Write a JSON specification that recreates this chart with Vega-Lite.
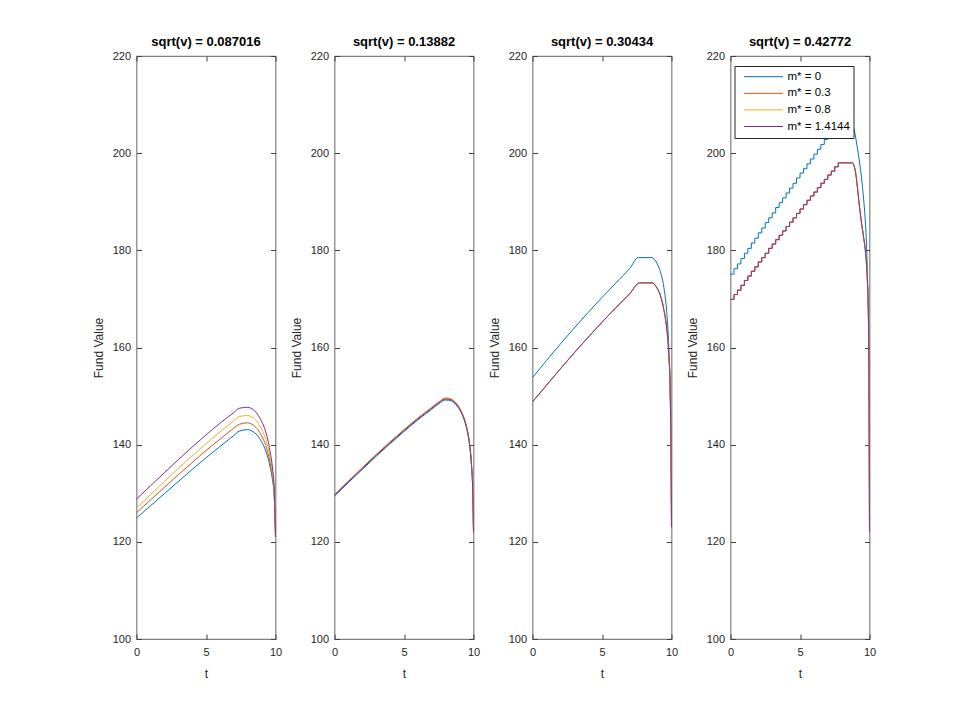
{
  "$schema": "https://vega.github.io/schema/vega-lite/v6.json",
  "background": "white",
  "padding": {"left": 91.5, "top": 35, "right": 0, "bottom": 0},
  "config": {
    "font": "Liberation Sans",
    "view": {"stroke": "#808080", "strokeWidth": 1.2},
    "axis": {
      "domain": false, "grid": false, "tickSize": -5, "tickColor": "#404040",
      "labelColor": "#262626", "labelFontSize": 11, "labelFlush": false, "labelOverlap": false,
      "titleFontSize": 12, "titleFontWeight": "normal", "titleColor": "#262626"
    },
    "axisX": {"labelPadding": 12, "titlePadding": 11},
    "axisY": {"labelPadding": 11, "titlePadding": 7},
    "title": {"fontSize": 13, "fontWeight": "bold", "color": "#000000", "offset": 1}
  },
  "datasets": {
    "p1": [
      {"m":"m* = 0","t":0,"v":124.9},{"m":"m* = 0","t":1,"v":127.4},{"m":"m* = 0","t":2,"v":129.9},{"m":"m* = 0","t":3,"v":132.4},{"m":"m* = 0","t":4,"v":134.9},{"m":"m* = 0","t":5,"v":137.3},{"m":"m* = 0","t":6,"v":139.6},{"m":"m* = 0","t":7,"v":141.9},{"m":"m* = 0","t":7.4,"v":142.8},{"m":"m* = 0","t":8,"v":143.1},{"m":"m* = 0","t":8.3,"v":142.8},{"m":"m* = 0","t":8.7,"v":141.9},{"m":"m* = 0","t":9,"v":140.6},{"m":"m* = 0","t":9.3,"v":138.7},{"m":"m* = 0","t":9.6,"v":135.6},{"m":"m* = 0","t":9.8,"v":132.4},{"m":"m* = 0","t":9.9,"v":129.8},{"m":"m* = 0","t":10,"v":121},
      {"m":"m* = 0.3","t":0,"v":126.0},{"m":"m* = 0.3","t":1,"v":128.6},{"m":"m* = 0.3","t":2,"v":131.2},{"m":"m* = 0.3","t":3,"v":133.8},{"m":"m* = 0.3","t":4,"v":136.3},{"m":"m* = 0.3","t":5,"v":138.8},{"m":"m* = 0.3","t":6,"v":141.1},{"m":"m* = 0.3","t":7,"v":143.4},{"m":"m* = 0.3","t":7.4,"v":144.2},{"m":"m* = 0.3","t":8,"v":144.5},{"m":"m* = 0.3","t":8.3,"v":144.2},{"m":"m* = 0.3","t":8.7,"v":143.2},{"m":"m* = 0.3","t":9,"v":141.8},{"m":"m* = 0.3","t":9.3,"v":139.8},{"m":"m* = 0.3","t":9.6,"v":136.5},{"m":"m* = 0.3","t":9.8,"v":133.1},{"m":"m* = 0.3","t":9.9,"v":130.3},{"m":"m* = 0.3","t":10,"v":121},
      {"m":"m* = 0.8","t":0,"v":127.0},{"m":"m* = 0.8","t":1,"v":129.7},{"m":"m* = 0.8","t":2,"v":132.4},{"m":"m* = 0.8","t":3,"v":135.1},{"m":"m* = 0.8","t":4,"v":137.7},{"m":"m* = 0.8","t":5,"v":140.2},{"m":"m* = 0.8","t":6,"v":142.6},{"m":"m* = 0.8","t":7,"v":144.9},{"m":"m* = 0.8","t":7.4,"v":145.8},{"m":"m* = 0.8","t":8,"v":146.0},{"m":"m* = 0.8","t":8.3,"v":145.7},{"m":"m* = 0.8","t":8.7,"v":144.6},{"m":"m* = 0.8","t":9,"v":143.2},{"m":"m* = 0.8","t":9.3,"v":141.1},{"m":"m* = 0.8","t":9.6,"v":137.6},{"m":"m* = 0.8","t":9.8,"v":133.9},{"m":"m* = 0.8","t":9.9,"v":130.9},{"m":"m* = 0.8","t":10,"v":121},
      {"m":"m* = 1.4144","t":0,"v":128.8},{"m":"m* = 1.4144","t":1,"v":131.5},{"m":"m* = 1.4144","t":2,"v":134.2},{"m":"m* = 1.4144","t":3,"v":136.9},{"m":"m* = 1.4144","t":4,"v":139.5},{"m":"m* = 1.4144","t":5,"v":142.0},{"m":"m* = 1.4144","t":6,"v":144.4},{"m":"m* = 1.4144","t":7,"v":146.6},{"m":"m* = 1.4144","t":7.4,"v":147.5},{"m":"m* = 1.4144","t":8,"v":147.7},{"m":"m* = 1.4144","t":8.3,"v":147.4},{"m":"m* = 1.4144","t":8.7,"v":146.3},{"m":"m* = 1.4144","t":9,"v":144.8},{"m":"m* = 1.4144","t":9.3,"v":142.6},{"m":"m* = 1.4144","t":9.6,"v":138.8},{"m":"m* = 1.4144","t":9.8,"v":134.8},{"m":"m* = 1.4144","t":9.9,"v":131.5},{"m":"m* = 1.4144","t":10,"v":121}
    ],
    "p2": [
      {"m":"m* = 0","t":0,"v":129.4},{"m":"m* = 0","t":1,"v":132.2},{"m":"m* = 0","t":2,"v":134.9},{"m":"m* = 0","t":3,"v":137.6},{"m":"m* = 0","t":4,"v":140.2},{"m":"m* = 0","t":5,"v":142.7},{"m":"m* = 0","t":6,"v":145.1},{"m":"m* = 0","t":7,"v":147.3},{"m":"m* = 0","t":7.5,"v":148.4},{"m":"m* = 0","t":8,"v":149.2},{"m":"m* = 0","t":8.4,"v":149.0},{"m":"m* = 0","t":8.8,"v":148.0},{"m":"m* = 0","t":9.1,"v":146.7},{"m":"m* = 0","t":9.4,"v":144.5},{"m":"m* = 0","t":9.6,"v":142.1},{"m":"m* = 0","t":9.75,"v":139.2},{"m":"m* = 0","t":9.85,"v":135.9},{"m":"m* = 0","t":9.95,"v":129.9},{"m":"m* = 0","t":10,"v":122},
      {"m":"m* = 0.3","t":0,"v":129.7},{"m":"m* = 0.3","t":1,"v":132.5},{"m":"m* = 0.3","t":2,"v":135.3},{"m":"m* = 0.3","t":3,"v":138.0},{"m":"m* = 0.3","t":4,"v":140.6},{"m":"m* = 0.3","t":5,"v":143.1},{"m":"m* = 0.3","t":6,"v":145.5},{"m":"m* = 0.3","t":7,"v":147.7},{"m":"m* = 0.3","t":7.5,"v":148.8},{"m":"m* = 0.3","t":8,"v":149.6},{"m":"m* = 0.3","t":8.4,"v":149.4},{"m":"m* = 0.3","t":8.8,"v":148.4},{"m":"m* = 0.3","t":9.1,"v":147.0},{"m":"m* = 0.3","t":9.4,"v":144.8},{"m":"m* = 0.3","t":9.6,"v":142.4},{"m":"m* = 0.3","t":9.75,"v":139.5},{"m":"m* = 0.3","t":9.85,"v":136.2},{"m":"m* = 0.3","t":9.95,"v":130.2},{"m":"m* = 0.3","t":10,"v":122},
      {"m":"m* = 0.8","t":0,"v":129.6},{"m":"m* = 0.8","t":1,"v":132.4},{"m":"m* = 0.8","t":2,"v":135.2},{"m":"m* = 0.8","t":3,"v":137.9},{"m":"m* = 0.8","t":4,"v":140.5},{"m":"m* = 0.8","t":5,"v":143.0},{"m":"m* = 0.8","t":6,"v":145.4},{"m":"m* = 0.8","t":7,"v":147.6},{"m":"m* = 0.8","t":7.5,"v":148.7},{"m":"m* = 0.8","t":8,"v":149.5},{"m":"m* = 0.8","t":8.4,"v":149.3},{"m":"m* = 0.8","t":8.8,"v":148.3},{"m":"m* = 0.8","t":9.1,"v":146.9},{"m":"m* = 0.8","t":9.4,"v":144.7},{"m":"m* = 0.8","t":9.6,"v":142.3},{"m":"m* = 0.8","t":9.75,"v":139.4},{"m":"m* = 0.8","t":9.85,"v":136.1},{"m":"m* = 0.8","t":9.95,"v":130.1},{"m":"m* = 0.8","t":10,"v":122},
      {"m":"m* = 1.4144","t":0,"v":129.6},{"m":"m* = 1.4144","t":1,"v":132.4},{"m":"m* = 1.4144","t":2,"v":135.1},{"m":"m* = 1.4144","t":3,"v":137.8},{"m":"m* = 1.4144","t":4,"v":140.4},{"m":"m* = 1.4144","t":5,"v":142.9},{"m":"m* = 1.4144","t":6,"v":145.3},{"m":"m* = 1.4144","t":7,"v":147.5},{"m":"m* = 1.4144","t":7.5,"v":148.6},{"m":"m* = 1.4144","t":8,"v":149.4},{"m":"m* = 1.4144","t":8.4,"v":149.2},{"m":"m* = 1.4144","t":8.8,"v":148.2},{"m":"m* = 1.4144","t":9.1,"v":146.8},{"m":"m* = 1.4144","t":9.4,"v":144.6},{"m":"m* = 1.4144","t":9.6,"v":142.2},{"m":"m* = 1.4144","t":9.75,"v":139.3},{"m":"m* = 1.4144","t":9.85,"v":136.0},{"m":"m* = 1.4144","t":9.95,"v":130.0},{"m":"m* = 1.4144","t":10,"v":122}
    ],
    "p3": [
      {"m":"m* = 0","t":0,"v":153.8},{"m":"m* = 0","t":1,"v":157.3},{"m":"m* = 0","t":2,"v":160.7},{"m":"m* = 0","t":3,"v":164.0},{"m":"m* = 0","t":4,"v":167.2},{"m":"m* = 0","t":5,"v":170.3},{"m":"m* = 0","t":6,"v":173.3},{"m":"m* = 0","t":7,"v":176.3},{"m":"m* = 0","t":7.6,"v":178.5},{"m":"m* = 0","t":8.6,"v":178.5},{"m":"m* = 0","t":8.9,"v":177.6},{"m":"m* = 0","t":9.2,"v":175.6},{"m":"m* = 0","t":9.45,"v":172.4},{"m":"m* = 0","t":9.65,"v":167.5},{"m":"m* = 0","t":9.8,"v":160.5},{"m":"m* = 0","t":9.9,"v":152},{"m":"m* = 0","t":9.96,"v":140},{"m":"m* = 0","t":10,"v":123},
      {"m":"m* = 0.3","t":0,"v":148.8},{"m":"m* = 0.3","t":1,"v":152.2},{"m":"m* = 0.3","t":2,"v":155.6},{"m":"m* = 0.3","t":3,"v":158.9},{"m":"m* = 0.3","t":4,"v":162.1},{"m":"m* = 0.3","t":5,"v":165.2},{"m":"m* = 0.3","t":6,"v":168.2},{"m":"m* = 0.3","t":7,"v":171.1},{"m":"m* = 0.3","t":7.7,"v":173.3},{"m":"m* = 0.3","t":8.6,"v":173.3},{"m":"m* = 0.3","t":8.9,"v":172.5},{"m":"m* = 0.3","t":9.2,"v":170.7},{"m":"m* = 0.3","t":9.45,"v":167.8},{"m":"m* = 0.3","t":9.65,"v":164.0},{"m":"m* = 0.3","t":9.8,"v":158.8},{"m":"m* = 0.3","t":9.9,"v":151.5},{"m":"m* = 0.3","t":9.96,"v":140},{"m":"m* = 0.3","t":10,"v":123},
      {"m":"m* = 0.8","t":0,"v":148.8},{"m":"m* = 0.8","t":1,"v":152.2},{"m":"m* = 0.8","t":2,"v":155.6},{"m":"m* = 0.8","t":3,"v":158.9},{"m":"m* = 0.8","t":4,"v":162.1},{"m":"m* = 0.8","t":5,"v":165.2},{"m":"m* = 0.8","t":6,"v":168.2},{"m":"m* = 0.8","t":7,"v":171.1},{"m":"m* = 0.8","t":7.7,"v":173.3},{"m":"m* = 0.8","t":8.6,"v":173.3},{"m":"m* = 0.8","t":8.9,"v":172.5},{"m":"m* = 0.8","t":9.2,"v":170.7},{"m":"m* = 0.8","t":9.45,"v":167.8},{"m":"m* = 0.8","t":9.65,"v":164.0},{"m":"m* = 0.8","t":9.8,"v":158.8},{"m":"m* = 0.8","t":9.9,"v":151.5},{"m":"m* = 0.8","t":9.96,"v":140},{"m":"m* = 0.8","t":10,"v":123},
      {"m":"m* = 1.4144","t":0,"v":148.8},{"m":"m* = 1.4144","t":1,"v":152.2},{"m":"m* = 1.4144","t":2,"v":155.6},{"m":"m* = 1.4144","t":3,"v":158.9},{"m":"m* = 1.4144","t":4,"v":162.1},{"m":"m* = 1.4144","t":5,"v":165.2},{"m":"m* = 1.4144","t":6,"v":168.2},{"m":"m* = 1.4144","t":7,"v":171.1},{"m":"m* = 1.4144","t":7.7,"v":173.3},{"m":"m* = 1.4144","t":8.6,"v":173.3},{"m":"m* = 1.4144","t":8.9,"v":172.5},{"m":"m* = 1.4144","t":9.2,"v":170.7},{"m":"m* = 1.4144","t":9.45,"v":167.8},{"m":"m* = 1.4144","t":9.65,"v":164.0},{"m":"m* = 1.4144","t":9.8,"v":158.8},{"m":"m* = 1.4144","t":9.9,"v":151.5},{"m":"m* = 1.4144","t":9.96,"v":140},{"m":"m* = 1.4144","t":10,"v":123}
    ],
    "p4": [
      {"m":"m* = 0","t":0,"v":175.1},{"m":"m* = 0","t":0.25,"v":176.2},{"m":"m* = 0","t":0.5,"v":177.2},{"m":"m* = 0","t":0.75,"v":178.3},{"m":"m* = 0","t":1,"v":179.4},{"m":"m* = 0","t":1.25,"v":180.4},{"m":"m* = 0","t":1.5,"v":181.5},{"m":"m* = 0","t":1.75,"v":182.5},{"m":"m* = 0","t":2,"v":183.6},{"m":"m* = 0","t":2.25,"v":184.6},{"m":"m* = 0","t":2.5,"v":185.7},{"m":"m* = 0","t":2.75,"v":186.7},{"m":"m* = 0","t":3,"v":187.7},{"m":"m* = 0","t":3.25,"v":188.8},{"m":"m* = 0","t":3.5,"v":189.8},{"m":"m* = 0","t":3.75,"v":190.8},{"m":"m* = 0","t":4,"v":191.8},{"m":"m* = 0","t":4.25,"v":192.8},{"m":"m* = 0","t":4.5,"v":193.8},{"m":"m* = 0","t":4.75,"v":194.9},{"m":"m* = 0","t":5,"v":195.9},{"m":"m* = 0","t":5.25,"v":196.8},{"m":"m* = 0","t":5.5,"v":197.8},{"m":"m* = 0","t":5.75,"v":198.8},{"m":"m* = 0","t":6,"v":199.8},{"m":"m* = 0","t":6.25,"v":200.8},{"m":"m* = 0","t":6.5,"v":201.8},{"m":"m* = 0","t":6.75,"v":202.8},{"m":"m* = 0","t":7,"v":203.7},{"m":"m* = 0","t":7.25,"v":204.7},{"m":"m* = 0","t":7.5,"v":205.7},{"m":"m* = 0","t":8.8,"v":205.7},{"m":"m* = 0","t":8.9,"v":204.8},{"m":"m* = 0","t":9,"v":203.3},{"m":"m* = 0","t":9.1,"v":201.6},{"m":"m* = 0","t":9.2,"v":199.8},{"m":"m* = 0","t":9.3,"v":197.8},{"m":"m* = 0","t":9.4,"v":195.5},{"m":"m* = 0","t":9.5,"v":192.9},{"m":"m* = 0","t":9.6,"v":189.8},{"m":"m* = 0","t":9.7,"v":186.0},{"m":"m* = 0","t":9.75,"v":183.5},{"m":"m* = 0","t":9.8,"v":180.0},{"m":"m* = 0","t":9.85,"v":175.0},{"m":"m* = 0","t":9.9,"v":169.8},{"m":"m* = 0","t":9.94,"v":162},{"m":"m* = 0","t":9.97,"v":150},{"m":"m* = 0","t":10,"v":122},
      {"m":"m* = 0.3","t":0,"v":169.9},{"m":"m* = 0.3","t":0.25,"v":170.9},{"m":"m* = 0.3","t":0.5,"v":171.8},{"m":"m* = 0.3","t":0.75,"v":172.8},{"m":"m* = 0.3","t":1,"v":173.8},{"m":"m* = 0.3","t":1.25,"v":174.7},{"m":"m* = 0.3","t":1.5,"v":175.7},{"m":"m* = 0.3","t":1.75,"v":176.6},{"m":"m* = 0.3","t":2,"v":177.6},{"m":"m* = 0.3","t":2.25,"v":178.5},{"m":"m* = 0.3","t":2.5,"v":179.4},{"m":"m* = 0.3","t":2.75,"v":180.4},{"m":"m* = 0.3","t":3,"v":181.3},{"m":"m* = 0.3","t":3.25,"v":182.2},{"m":"m* = 0.3","t":3.5,"v":183.1},{"m":"m* = 0.3","t":3.75,"v":184.0},{"m":"m* = 0.3","t":4,"v":184.9},{"m":"m* = 0.3","t":4.25,"v":185.8},{"m":"m* = 0.3","t":4.5,"v":186.7},{"m":"m* = 0.3","t":4.75,"v":187.6},{"m":"m* = 0.3","t":5,"v":188.5},{"m":"m* = 0.3","t":5.25,"v":189.4},{"m":"m* = 0.3","t":5.5,"v":190.3},{"m":"m* = 0.3","t":5.75,"v":191.2},{"m":"m* = 0.3","t":6,"v":192.0},{"m":"m* = 0.3","t":6.25,"v":192.9},{"m":"m* = 0.3","t":6.5,"v":193.8},{"m":"m* = 0.3","t":6.75,"v":194.6},{"m":"m* = 0.3","t":7,"v":195.5},{"m":"m* = 0.3","t":7.25,"v":196.3},{"m":"m* = 0.3","t":7.5,"v":197.2},{"m":"m* = 0.3","t":7.75,"v":198.0},{"m":"m* = 0.3","t":8.8,"v":198.0},{"m":"m* = 0.3","t":8.9,"v":197.3},{"m":"m* = 0.3","t":9,"v":196.0},{"m":"m* = 0.3","t":9.1,"v":193.8},{"m":"m* = 0.3","t":9.2,"v":191.0},{"m":"m* = 0.3","t":9.3,"v":188.5},{"m":"m* = 0.3","t":9.4,"v":186.2},{"m":"m* = 0.3","t":9.5,"v":184.2},{"m":"m* = 0.3","t":9.6,"v":182.2},{"m":"m* = 0.3","t":9.7,"v":180.0},{"m":"m* = 0.3","t":9.75,"v":178.5},{"m":"m* = 0.3","t":9.8,"v":176.5},{"m":"m* = 0.3","t":9.85,"v":173.5},{"m":"m* = 0.3","t":9.9,"v":169.6},{"m":"m* = 0.3","t":9.94,"v":162},{"m":"m* = 0.3","t":9.97,"v":150},{"m":"m* = 0.3","t":10,"v":122},
      {"m":"m* = 0.8","t":0,"v":169.9},{"m":"m* = 0.8","t":0.25,"v":170.9},{"m":"m* = 0.8","t":0.5,"v":171.8},{"m":"m* = 0.8","t":0.75,"v":172.8},{"m":"m* = 0.8","t":1,"v":173.8},{"m":"m* = 0.8","t":1.25,"v":174.7},{"m":"m* = 0.8","t":1.5,"v":175.7},{"m":"m* = 0.8","t":1.75,"v":176.6},{"m":"m* = 0.8","t":2,"v":177.6},{"m":"m* = 0.8","t":2.25,"v":178.5},{"m":"m* = 0.8","t":2.5,"v":179.4},{"m":"m* = 0.8","t":2.75,"v":180.4},{"m":"m* = 0.8","t":3,"v":181.3},{"m":"m* = 0.8","t":3.25,"v":182.2},{"m":"m* = 0.8","t":3.5,"v":183.1},{"m":"m* = 0.8","t":3.75,"v":184.0},{"m":"m* = 0.8","t":4,"v":184.9},{"m":"m* = 0.8","t":4.25,"v":185.8},{"m":"m* = 0.8","t":4.5,"v":186.7},{"m":"m* = 0.8","t":4.75,"v":187.6},{"m":"m* = 0.8","t":5,"v":188.5},{"m":"m* = 0.8","t":5.25,"v":189.4},{"m":"m* = 0.8","t":5.5,"v":190.3},{"m":"m* = 0.8","t":5.75,"v":191.2},{"m":"m* = 0.8","t":6,"v":192.0},{"m":"m* = 0.8","t":6.25,"v":192.9},{"m":"m* = 0.8","t":6.5,"v":193.8},{"m":"m* = 0.8","t":6.75,"v":194.6},{"m":"m* = 0.8","t":7,"v":195.5},{"m":"m* = 0.8","t":7.25,"v":196.3},{"m":"m* = 0.8","t":7.5,"v":197.2},{"m":"m* = 0.8","t":7.75,"v":198.0},{"m":"m* = 0.8","t":8.8,"v":198.0},{"m":"m* = 0.8","t":8.9,"v":197.3},{"m":"m* = 0.8","t":9,"v":196.0},{"m":"m* = 0.8","t":9.1,"v":193.8},{"m":"m* = 0.8","t":9.2,"v":191.0},{"m":"m* = 0.8","t":9.3,"v":188.5},{"m":"m* = 0.8","t":9.4,"v":186.2},{"m":"m* = 0.8","t":9.5,"v":184.2},{"m":"m* = 0.8","t":9.6,"v":182.2},{"m":"m* = 0.8","t":9.7,"v":180.0},{"m":"m* = 0.8","t":9.75,"v":178.5},{"m":"m* = 0.8","t":9.8,"v":176.5},{"m":"m* = 0.8","t":9.85,"v":173.5},{"m":"m* = 0.8","t":9.9,"v":169.6},{"m":"m* = 0.8","t":9.94,"v":162},{"m":"m* = 0.8","t":9.97,"v":150},{"m":"m* = 0.8","t":10,"v":122},
      {"m":"m* = 1.4144","t":0,"v":169.9},{"m":"m* = 1.4144","t":0.25,"v":170.9},{"m":"m* = 1.4144","t":0.5,"v":171.8},{"m":"m* = 1.4144","t":0.75,"v":172.8},{"m":"m* = 1.4144","t":1,"v":173.8},{"m":"m* = 1.4144","t":1.25,"v":174.7},{"m":"m* = 1.4144","t":1.5,"v":175.7},{"m":"m* = 1.4144","t":1.75,"v":176.6},{"m":"m* = 1.4144","t":2,"v":177.6},{"m":"m* = 1.4144","t":2.25,"v":178.5},{"m":"m* = 1.4144","t":2.5,"v":179.4},{"m":"m* = 1.4144","t":2.75,"v":180.4},{"m":"m* = 1.4144","t":3,"v":181.3},{"m":"m* = 1.4144","t":3.25,"v":182.2},{"m":"m* = 1.4144","t":3.5,"v":183.1},{"m":"m* = 1.4144","t":3.75,"v":184.0},{"m":"m* = 1.4144","t":4,"v":184.9},{"m":"m* = 1.4144","t":4.25,"v":185.8},{"m":"m* = 1.4144","t":4.5,"v":186.7},{"m":"m* = 1.4144","t":4.75,"v":187.6},{"m":"m* = 1.4144","t":5,"v":188.5},{"m":"m* = 1.4144","t":5.25,"v":189.4},{"m":"m* = 1.4144","t":5.5,"v":190.3},{"m":"m* = 1.4144","t":5.75,"v":191.2},{"m":"m* = 1.4144","t":6,"v":192.0},{"m":"m* = 1.4144","t":6.25,"v":192.9},{"m":"m* = 1.4144","t":6.5,"v":193.8},{"m":"m* = 1.4144","t":6.75,"v":194.6},{"m":"m* = 1.4144","t":7,"v":195.5},{"m":"m* = 1.4144","t":7.25,"v":196.3},{"m":"m* = 1.4144","t":7.5,"v":197.2},{"m":"m* = 1.4144","t":7.75,"v":198.0},{"m":"m* = 1.4144","t":8.8,"v":198.0},{"m":"m* = 1.4144","t":8.9,"v":197.3},{"m":"m* = 1.4144","t":9,"v":196.0},{"m":"m* = 1.4144","t":9.1,"v":193.8},{"m":"m* = 1.4144","t":9.2,"v":191.0},{"m":"m* = 1.4144","t":9.3,"v":188.5},{"m":"m* = 1.4144","t":9.4,"v":186.2},{"m":"m* = 1.4144","t":9.5,"v":184.2},{"m":"m* = 1.4144","t":9.6,"v":182.2},{"m":"m* = 1.4144","t":9.7,"v":180.0},{"m":"m* = 1.4144","t":9.75,"v":178.5},{"m":"m* = 1.4144","t":9.8,"v":176.5},{"m":"m* = 1.4144","t":9.85,"v":173.5},{"m":"m* = 1.4144","t":9.9,"v":169.6},{"m":"m* = 1.4144","t":9.94,"v":162},{"m":"m* = 1.4144","t":9.97,"v":150},{"m":"m* = 1.4144","t":10,"v":122}
    ]
  },
  "bounds": "flush",
  "spacing": 59,
  "resolve": {"scale": {"color": "independent"}, "legend": {"color": "independent"}},
  "hconcat": [
    {
      "width": 139, "height": 583,
      "title": "sqrt(v) = 0.087016",
      "data": {"name": "p1"},
      "layer": [
        {"mark": {"type": "line", "interpolate": "monotone", "strokeWidth": 1},
         "encoding": {
           "x": {"field": "t", "type": "quantitative", "scale": {"domain": [0, 10]}, "axis": {"values": [0, 5, 10], "title": "t"}},
           "y": {"field": "v", "type": "quantitative", "scale": {"domain": [100, 220]}, "axis": {"values": [100, 120, 140, 160, 180, 200, 220], "title": "Fund Value"}},
           "color": {"field": "m", "type": "nominal", "sort": null, "scale": {"domain": ["m* = 0", "m* = 0.3", "m* = 0.8", "m* = 1.4144"], "range": ["#0072BD", "#D95319", "#EDB120", "#7E2F8E"]}, "legend": null}
         }},
        {"mark": {"type": "point", "opacity": 0},
         "encoding": {
           "x": {"field": "t", "type": "quantitative", "scale": {"domain": [0, 10]}, "axis": {"orient": "top", "values": [0, 5, 10], "labels": false, "title": null}},
           "y": {"field": "v", "type": "quantitative", "scale": {"domain": [100, 220]}, "axis": {"orient": "right", "values": [100, 120, 140, 160, 180, 200, 220], "labels": false, "title": null}}
         }}
      ],
      "resolve": {"axis": {"x": "independent", "y": "independent"}}
    },
    {
      "width": 139, "height": 583,
      "title": "sqrt(v) = 0.13882",
      "data": {"name": "p2"},
      "layer": [
        {"mark": {"type": "line", "interpolate": "monotone", "strokeWidth": 1},
         "encoding": {
           "x": {"field": "t", "type": "quantitative", "scale": {"domain": [0, 10]}, "axis": {"values": [0, 5, 10], "title": "t"}},
           "y": {"field": "v", "type": "quantitative", "scale": {"domain": [100, 220]}, "axis": {"values": [100, 120, 140, 160, 180, 200, 220], "title": "Fund Value"}},
           "color": {"field": "m", "type": "nominal", "sort": null, "scale": {"domain": ["m* = 0", "m* = 0.3", "m* = 0.8", "m* = 1.4144"], "range": ["#0072BD", "#D95319", "#EDB120", "#7E2F8E"]}, "legend": null}
         }},
        {"mark": {"type": "point", "opacity": 0},
         "encoding": {
           "x": {"field": "t", "type": "quantitative", "scale": {"domain": [0, 10]}, "axis": {"orient": "top", "values": [0, 5, 10], "labels": false, "title": null}},
           "y": {"field": "v", "type": "quantitative", "scale": {"domain": [100, 220]}, "axis": {"orient": "right", "values": [100, 120, 140, 160, 180, 200, 220], "labels": false, "title": null}}
         }}
      ],
      "resolve": {"axis": {"x": "independent", "y": "independent"}}
    },
    {
      "width": 139, "height": 583,
      "title": "sqrt(v) = 0.30434",
      "data": {"name": "p3"},
      "layer": [
        {"mark": {"type": "line", "interpolate": "monotone", "strokeWidth": 1},
         "encoding": {
           "x": {"field": "t", "type": "quantitative", "scale": {"domain": [0, 10]}, "axis": {"values": [0, 5, 10], "title": "t"}},
           "y": {"field": "v", "type": "quantitative", "scale": {"domain": [100, 220]}, "axis": {"values": [100, 120, 140, 160, 180, 200, 220], "title": "Fund Value"}},
           "color": {"field": "m", "type": "nominal", "sort": null, "scale": {"domain": ["m* = 0", "m* = 0.3", "m* = 0.8", "m* = 1.4144"], "range": ["#0072BD", "#D95319", "#EDB120", "#7E2F8E"]}, "legend": null}
         }},
        {"mark": {"type": "point", "opacity": 0},
         "encoding": {
           "x": {"field": "t", "type": "quantitative", "scale": {"domain": [0, 10]}, "axis": {"orient": "top", "values": [0, 5, 10], "labels": false, "title": null}},
           "y": {"field": "v", "type": "quantitative", "scale": {"domain": [100, 220]}, "axis": {"orient": "right", "values": [100, 120, 140, 160, 180, 200, 220], "labels": false, "title": null}}
         }}
      ],
      "resolve": {"axis": {"x": "independent", "y": "independent"}}
    },
    {
      "width": 139, "height": 583,
      "title": "sqrt(v) = 0.42772",
      "data": {"name": "p4"},
      "layer": [
        {"transform": [{"filter": "datum.t <= 8.8"}],
         "mark": {"type": "line", "interpolate": "step-after", "strokeWidth": 1},
         "encoding": {
           "x": {"field": "t", "type": "quantitative", "scale": {"domain": [0, 10]}, "axis": {"values": [0, 5, 10], "title": "t"}},
           "y": {"field": "v", "type": "quantitative", "scale": {"domain": [100, 220]}, "axis": {"values": [100, 120, 140, 160, 180, 200, 220], "title": "Fund Value"}},
           "color": {"field": "m", "type": "nominal", "sort": null, "scale": {"domain": ["m* = 0", "m* = 0.3", "m* = 0.8", "m* = 1.4144"], "range": ["#0072BD", "#D95319", "#EDB120", "#7E2F8E"]},
             "legend": {"orient": "none", "legendX": 4, "legendY": 10, "title": null, "symbolType": "stroke", "symbolSize": 1521, "symbolStrokeWidth": 1, "clipHeight": 15.4, "rowPadding": 0.6, "symbolOffset": 6, "labelOffset": 4, "padding": 3, "strokeColor": "#262626", "fillColor": "white", "labelFontSize": 11.5, "labelColor": "#000000"}}
         }},
        {"transform": [{"filter": "datum.t >= 8.8"}],
         "mark": {"type": "line", "interpolate": "monotone", "strokeWidth": 1},
         "encoding": {
           "x": {"field": "t", "type": "quantitative", "scale": {"domain": [0, 10]}, "axis": null},
           "y": {"field": "v", "type": "quantitative", "scale": {"domain": [100, 220]}, "axis": null},
           "color": {"field": "m", "type": "nominal", "sort": null, "scale": {"domain": ["m* = 0", "m* = 0.3", "m* = 0.8", "m* = 1.4144"], "range": ["#0072BD", "#D95319", "#EDB120", "#7E2F8E"]}}
         }},
        {"mark": {"type": "point", "opacity": 0},
         "encoding": {
           "x": {"field": "t", "type": "quantitative", "scale": {"domain": [0, 10]}, "axis": {"orient": "top", "values": [0, 5, 10], "labels": false, "title": null}},
           "y": {"field": "v", "type": "quantitative", "scale": {"domain": [100, 220]}, "axis": {"orient": "right", "values": [100, 120, 140, 160, 180, 200, 220], "labels": false, "title": null}}
         }}
      ],
      "resolve": {"axis": {"x": "independent", "y": "independent"}}
    }
  ]
}
